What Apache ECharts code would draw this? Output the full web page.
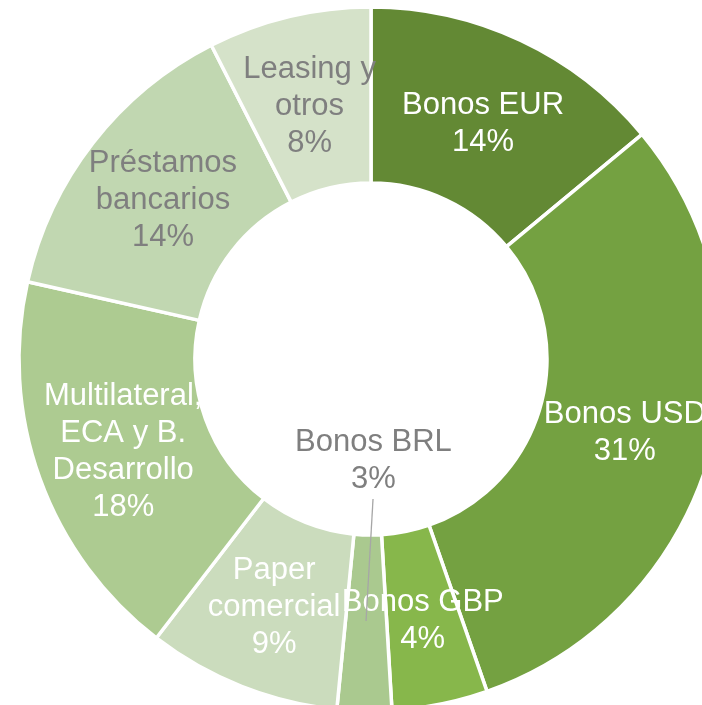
<!DOCTYPE html>
<html>
<head>
<meta charset="utf-8">
<script src="https://cdn.jsdelivr.net/npm/echarts@6/dist/echarts.min.js"></script>
<style>
html, body { margin: 0; padding: 0; background: #fff; }
#chart { width: 702px; height: 705px; }
</style>
</head>
<body>
<div id="chart"></div>
<script>
// shares, labels show them rounded
var categories = ['Bonos EUR', 'Bonos USD', 'Bonos GBP', 'Bonos BRL', 'Paper\ncomercial',
                  'Multilateral,\nECA y B.\nDesarrollo', 'Préstamos\nbancarios', 'Leasing y\notros'];
var shares = [14.0, 30.7, 4.4, 2.5, 8.9, 18.1, 14.0, 7.5];
var sliceColors = ['#638934', '#74a141', '#87b74b', '#aac98f', '#cbdcbd', '#adcb91', '#c1d7b1', '#d5e2c9'];
var textColors = ['#ffffff', '#ffffff', '#ffffff', '#7f7f7f', '#ffffff', '#ffffff', '#7f7f7f', '#7f7f7f'];

var CX = 371, CY = 359;
var BRL = 3;

var dom = document.getElementById('chart');
var myChart = echarts.init(dom, null, { renderer: 'canvas' });

var pieData = categories.map(function (name, i) {
    var item = {
        name: name,
        value: shares[i],
        itemStyle: { color: sliceColors[i] },
        label: { color: textColors[i] }
    };
    if (i === BRL) {
        item.label.position = 'outside';
    }
    return item;
});

var option = {
    animation: false,
    series: [{
        type: 'pie',
        center: [CX, CY],
        radius: [176, 352],
        startAngle: 90,
        clockwise: true,
        avoidLabelOverlap: false,
        emphasis: { disabled: true },
        itemStyle: { borderColor: '#ffffff', borderWidth: 3.5 },
        label: {
            position: 'inside',
            fontFamily: 'Liberation Sans, Arial, sans-serif',
            fontSize: 31,
            lineHeight: 37,
            overflow: 'none',
            formatter: function (p) {
                return p.name + '\n' + Math.round(p.value) + '%';
            }
        },
        labelLine: { show: false },
        labelLayout: function (p) {
            if (p.dataIndex === BRL) {
                // small slice: label goes up into the hole
                var cx = p.rect.x + p.rect.width / 2;
                var cy = p.rect.y + p.rect.height / 2;
                return { x: cx + 9, y: cy - 162, align: 'center', verticalAlign: 'middle' };
            }
            // excel puts the labels a bit nearer the centre and lower
            var lx = p.labelRect.x + p.labelRect.width / 2 - CX;
            var ly = p.labelRect.y + p.labelRect.height / 2 - CY;
            var d = Math.sqrt(lx * lx + ly * ly) || 1;
            return { dx: -3.5 * lx / d, dy: -3.5 * ly / d + 3.5 };
        },
        data: pieData
    }]
};

myChart.setOption(option);

// leader line for the Bonos BRL label, from the slice's own layout
var lay = myChart.getModel().getSeriesByIndex(0).getData().getItemLayout(BRL);
var mid = (lay.startAngle + lay.endAngle) / 2;
var rm = (lay.r0 + lay.r) / 2;
var px = lay.cx + rm * Math.cos(mid);
var py = lay.cy + rm * Math.sin(mid);
var leader = new echarts.graphic.Polyline({
    z: 100,
    silent: true,
    shape: { points: [[px, py - 2], [px + 7, py - 124]] },
    style: { stroke: '#a6a6a6', lineWidth: 1.3, fill: null }
});
myChart.getZr().add(leader);
</script>
</body>
</html>
